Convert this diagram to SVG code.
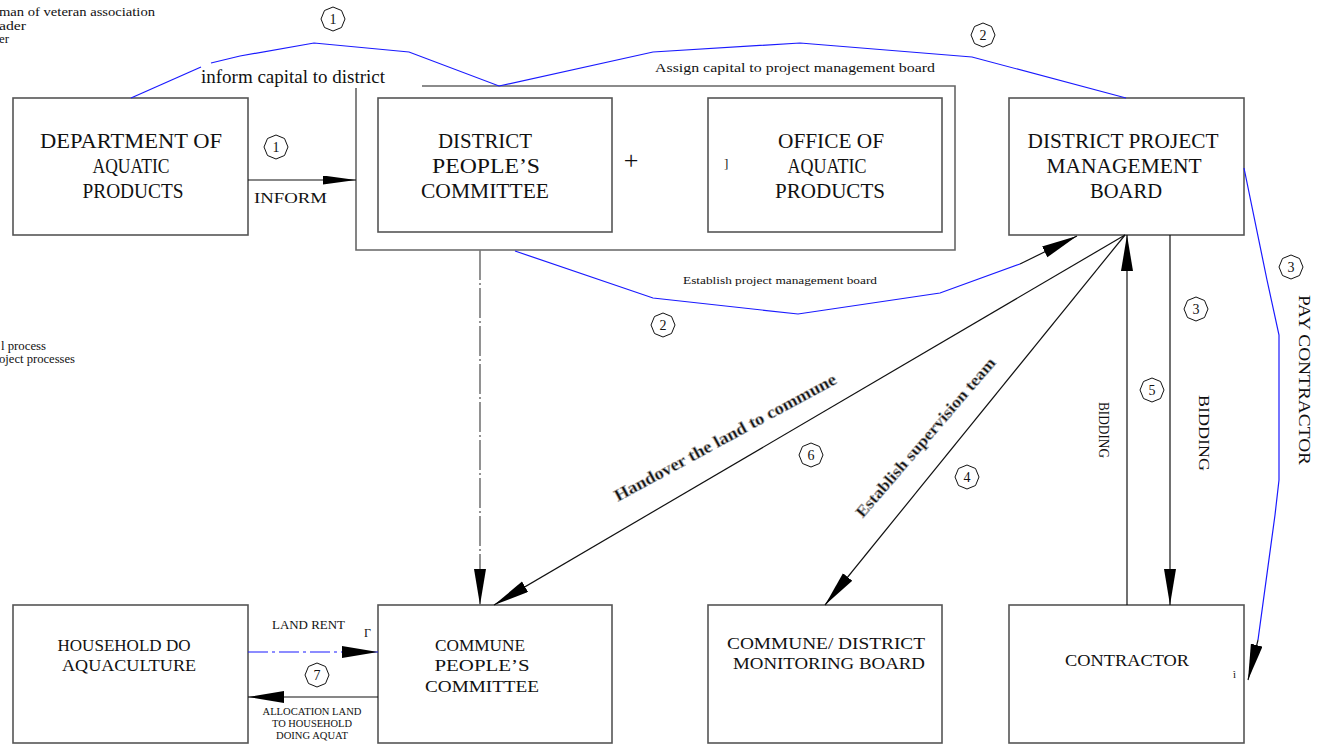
<svg xmlns="http://www.w3.org/2000/svg" xmlns:xlink="http://www.w3.org/1999/xlink" width="1319" height="744" viewBox="0 0 1319 744">
<style>
  .box{fill:#fff;stroke:#555;stroke-width:1.6}
  .frame{fill:none;stroke:#666;stroke-width:1.6}
  text{font-family:"Liberation Serif","Times New Roman",serif;fill:#111}
  .big{font-size:20px}
  .mid{font-size:16px}
  .sm{font-size:11.5px}
  .blue{fill:none;stroke:#1a1aff;stroke-width:1.2}
  .blk{fill:none;stroke:#111;stroke-width:1.2}
  .oct{fill:#fff;stroke:#111;stroke-width:1}
  .num{font-size:14px;text-anchor:middle}
  .c{text-anchor:middle}
</style>
<defs>
  <marker id="ah" markerUnits="userSpaceOnUse" markerWidth="40" markerHeight="14" refX="36" refY="6" orient="auto">
    <path d="M0,0 L36,6 L0,12 Z" fill="#000"/>
  </marker>
  <marker id="ahs" markerUnits="userSpaceOnUse" markerWidth="36" markerHeight="10" refX="33" refY="4.5" orient="auto">
    <path d="M0,0 L33,4.5 L0,9 Z" fill="#000"/>
  </marker>
  <polygon id="oct" points="0,-12 8.5,-8.5 12,0 8.5,8.5 0,12 -8.5,8.5 -12,0 -8.5,-8.5"/>
</defs>

<!-- legend fragments -->
<g id="legend" font-family="Liberation Serif, serif">
  <text class="sm" x="-1" y="16" textLength="156" lengthAdjust="spacingAndGlyphs">man of veteran association</text>
  <text class="sm" x="-1" y="30" textLength="27" lengthAdjust="spacingAndGlyphs">ader</text>
  <text class="sm" x="-1" y="43" textLength="10" lengthAdjust="spacingAndGlyphs">er</text>
  <text class="sm" x="1" y="350" textLength="45" lengthAdjust="spacingAndGlyphs">l process</text>
  <text class="sm" x="-1" y="363" textLength="76" lengthAdjust="spacingAndGlyphs">oject processes</text>
</g>

<!-- nodes -->
<g id="dept">
  <rect class="box" x="13" y="98" width="235" height="137"/>
  <text class="big c" x="131" y="148" textLength="182" lengthAdjust="spacingAndGlyphs">DEPARTMENT OF</text>
  <text class="big c" x="131" y="173" textLength="77" lengthAdjust="spacingAndGlyphs">AQUATIC</text>
  <text class="big c" x="133" y="198" textLength="101" lengthAdjust="spacingAndGlyphs">PRODUCTS</text>
</g>
<g id="district-group">
  <path class="frame" d="M422,86 L955,86 L955,250 L356,250 L356,88"/>
  <text font-size="18" x="201" y="83" textLength="184" lengthAdjust="spacingAndGlyphs">inform capital to district</text>
</g>
<g id="dpc">
  <rect class="box" x="378" y="98" width="234" height="134"/>
  <text class="big c" x="485" y="148" textLength="94" lengthAdjust="spacingAndGlyphs">DISTRICT</text>
  <text class="big c" x="486" y="173" textLength="108" lengthAdjust="spacingAndGlyphs">PEOPLE’S</text>
  <text class="big c" x="485" y="198" textLength="128" lengthAdjust="spacingAndGlyphs">COMMITTEE</text>
</g>
<text font-size="26" class="c" x="631" y="169">+</text>
<g id="oap">
  <rect class="box" x="708" y="98" width="234" height="134"/>
  <text font-size="13" x="724" y="168">]</text>
  <text class="big c" x="831" y="148" textLength="106" lengthAdjust="spacingAndGlyphs">OFFICE OF</text>
  <text class="big c" x="827" y="173" textLength="79" lengthAdjust="spacingAndGlyphs">AQUATIC</text>
  <text class="big c" x="830" y="198" textLength="110" lengthAdjust="spacingAndGlyphs">PRODUCTS</text>
</g>
<g id="dpmb">
  <rect class="box" x="1009" y="98" width="235" height="137"/>
  <text class="big c" x="1123" y="148" textLength="191" lengthAdjust="spacingAndGlyphs">DISTRICT PROJECT</text>
  <text class="big c" x="1124" y="173" textLength="155" lengthAdjust="spacingAndGlyphs">MANAGEMENT</text>
  <text class="big c" x="1126" y="198" textLength="72" lengthAdjust="spacingAndGlyphs">BOARD</text>
</g>
<g id="household">
  <rect class="box" x="13" y="605" width="235" height="138"/>
  <text class="mid c" x="124" y="651" textLength="133" lengthAdjust="spacingAndGlyphs">HOUSEHOLD DO</text>
  <text class="mid c" x="129" y="671" textLength="134" lengthAdjust="spacingAndGlyphs">AQUACULTURE</text>
</g>
<g id="cpc">
  <rect class="box" x="378" y="605" width="234" height="138"/>
  <text class="mid c" x="480" y="651" textLength="90" lengthAdjust="spacingAndGlyphs">COMMUNE</text>
  <text class="mid c" x="482" y="671" textLength="95" lengthAdjust="spacingAndGlyphs">PEOPLE’S</text>
  <text class="mid c" x="482" y="692" textLength="114" lengthAdjust="spacingAndGlyphs">COMMITTEE</text>
</g>
<g id="monitor">
  <rect class="box" x="708" y="605" width="234" height="138"/>
  <text class="mid c" x="826" y="649" textLength="198" lengthAdjust="spacingAndGlyphs">COMMUNE/ DISTRICT</text>
  <text class="mid c" x="829" y="669" textLength="192" lengthAdjust="spacingAndGlyphs">MONITORING BOARD</text>
</g>
<g id="contractor">
  <rect class="box" x="1009" y="605" width="235" height="138"/>
  <text class="mid c" x="1127" y="666" textLength="124" lengthAdjust="spacingAndGlyphs">CONTRACTOR</text>
  <text font-size="11" x="1233" y="678">ì</text>
</g>

<!-- connectors -->
<g id="connectors">
  <!-- (1) inform capital to district, (2) assign capital -->
  <polyline class="blue" points="131,98 201,67"/>
  <polyline class="blue" points="211,63 240,56 314,43 409,52 499,86 653,52 800,43 972,57 1126,98"/>
  <text font-size="13" x="655" y="72" textLength="280" lengthAdjust="spacingAndGlyphs">Assign capital to project management board</text>
  <use xlink:href="#oct" class="oct" x="333" y="19"/><text class="num" x="333" y="24">1</text>
  <use xlink:href="#oct" class="oct" x="983" y="35"/><text class="num" x="983" y="40">2</text>

  <!-- INFORM -->
  <line class="blk" x1="248" y1="180" x2="356" y2="180" marker-end="url(#ahs)"/>
  <text font-size="15" x="254" y="203" textLength="73" lengthAdjust="spacingAndGlyphs">INFORM</text>
  <use xlink:href="#oct" class="oct" x="276" y="147"/><text class="num" x="276" y="152">1</text>

  <!-- Establish project management board -->
  <polyline class="blue" points="515,251 653,298 798,314 940,293 1020,264"/>
  <line class="blk" x1="1020" y1="264" x2="1077" y2="236" marker-end="url(#ah)" stroke-width="0.5"/>
  <text font-size="11" x="683" y="284" textLength="194" lengthAdjust="spacingAndGlyphs">Establish project management board</text>
  <use xlink:href="#oct" class="oct" x="663" y="325"/><text class="num" x="663" y="330">2</text>

  <!-- dash-dot down to commune -->
  <line x1="480" y1="250" x2="480" y2="605" stroke="#777" stroke-width="1.6" stroke-dasharray="30,3,2,3" marker-end="url(#ah)"/>

  <!-- (6) hand over land to commune -->
  <line class="blk" x1="1125" y1="235" x2="494" y2="605" marker-end="url(#ah)"/>
  <use xlink:href="#oct" class="oct" x="811" y="455"/><text class="num" x="811" y="460">6</text>
  <text font-size="17" font-weight="bold" fill="#333" class="c" x="725" y="443" textLength="250" lengthAdjust="spacingAndGlyphs" transform="rotate(-28.4 725 437)" stroke="#aaa" stroke-width="0.6">Handover the land to commune</text>

  <!-- (4) establish supervision team -->
  <line class="blk" x1="1125" y1="235" x2="825" y2="605" marker-end="url(#ah)"/>
  <use xlink:href="#oct" class="oct" x="967" y="477"/><text class="num" x="967" y="482">4</text>
  <text font-size="16" font-weight="bold" fill="#333" class="c" x="925" y="443" textLength="205" lengthAdjust="spacingAndGlyphs" transform="rotate(-49.3 925 437)" stroke="#aaa" stroke-width="0.6">Establish supervision team</text>

  <!-- (5) bidding up -->
  <line class="blk" x1="1127" y1="605" x2="1127" y2="235" marker-end="url(#ah)"/>
  <text font-size="15" class="c" x="1099" y="430" transform="rotate(90 1099 430)" textLength="56" lengthAdjust="spacingAndGlyphs">BIDDING</text>
  <use xlink:href="#oct" class="oct" x="1152" y="390"/><text class="num" x="1152" y="395">5</text>

  <!-- (3) bidding down -->
  <line class="blk" x1="1170" y1="235" x2="1170" y2="605" marker-end="url(#ah)"/>
  <text font-size="15" class="c" x="1199" y="433" transform="rotate(90 1199 433)" textLength="76" lengthAdjust="spacingAndGlyphs">BIDDING</text>
  <use xlink:href="#oct" class="oct" x="1196" y="309"/><text class="num" x="1196" y="314">3</text>

  <!-- (3) pay contractor -->
  <polyline class="blue" points="1244,168 1267,280 1279,335 1279,480 1275,515 1258,640"/>
  <line class="blk" x1="1258" y1="640" x2="1248" y2="680" stroke-width="0.5" marker-end="url(#ah)"/>
  <text font-size="17" class="c" x="1299" y="380" transform="rotate(90 1299 380)" textLength="170" lengthAdjust="spacingAndGlyphs">PAY CONTRACTOR</text>
  <use xlink:href="#oct" class="oct" x="1291" y="267"/><text class="num" x="1291" y="272">3</text>

  <!-- land rent -->
  <line x1="248" y1="652" x2="378" y2="652" stroke="#1a1aff" stroke-width="1.2" stroke-dasharray="20,4,3,4" marker-end="url(#ah)"/>
  <text class="sm" x="272" y="629" textLength="73" lengthAdjust="spacingAndGlyphs">LAND RENT</text>
  <text font-size="12" x="364" y="637">Γ</text>
  <use xlink:href="#oct" class="oct" x="317" y="675"/><text class="num" x="317" y="680">7</text>

  <!-- allocation -->
  <line class="blk" x1="378" y1="697" x2="248" y2="697" marker-end="url(#ah)"/>
  <text font-size="10" class="c" x="312" y="715" textLength="99" lengthAdjust="spacingAndGlyphs">ALLOCATION LAND</text>
  <text font-size="10" class="c" x="312" y="727" textLength="80" lengthAdjust="spacingAndGlyphs">TO HOUSEHOLD</text>
  <text font-size="10" class="c" x="312" y="739" textLength="72" lengthAdjust="spacingAndGlyphs">DOING AQUAT</text>
</g>
</svg>
